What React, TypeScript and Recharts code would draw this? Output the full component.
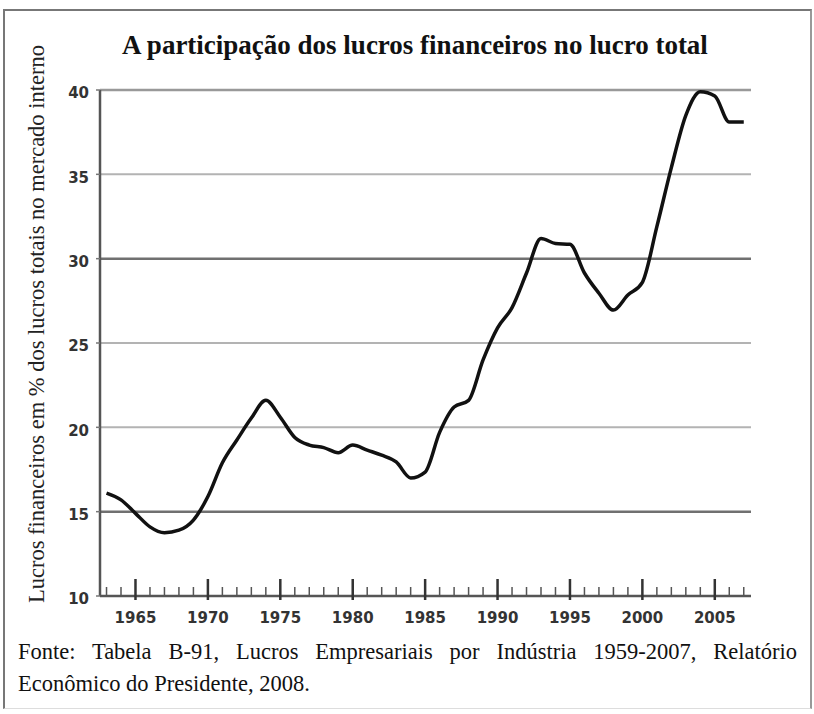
import React from 'react';
import { LineChart, Line, XAxis, YAxis, ReferenceLine } from 'recharts';

// Participação dos lucros financeiros no lucro total (%), 1963-2007
const years = [
  1963, 1964, 1965, 1966, 1967, 1968, 1969, 1970, 1971, 1972,
  1973, 1974, 1975, 1976, 1977, 1978, 1979, 1980, 1981, 1982,
  1983, 1984, 1985, 1986, 1987, 1988, 1989, 1990, 1991, 1992,
  1993, 1994, 1995, 1996, 1997, 1998, 1999, 2000, 2001, 2002,
  2003, 2004, 2005, 2006, 2007,
];
const shares = [
  16.1, 15.7, 14.9, 14.1, 13.75, 13.9, 14.5, 15.9, 17.9, 19.25,
  20.55, 21.6, 20.6, 19.4, 18.95, 18.8, 18.5, 18.95, 18.65, 18.35,
  17.95, 17.0, 17.35, 19.7, 21.2, 21.6, 24.0, 25.9, 27.1, 29.15,
  31.2, 30.9, 30.85, 29.15, 27.95, 26.95, 27.85, 28.6, 31.9, 35.4,
  38.5, 39.9, 39.65, 38.1, 38.1,
];
const yTicks = [10, 15, 20, 25, 30, 35, 40];
const gridLevels = [15, 20, 25, 30, 35, 40];

const title = 'A participação dos lucros financeiros no lucro total';
const yLabel = 'Lucros financeiros em % dos lucros totais no mercado interno';
const source1 = 'Fonte: Tabela B-91, Lucros Empresariais por Indústria 1959-2007, Relatório';
const source2 = 'Econômico do Presidente, 2008.';

const data = years.map((year, i) => ({ year, share: shares[i] }));

const serif = '"Liberation Serif", "DejaVu Serif", serif';
const tickFont = '"DejaVu Sans", sans-serif';

const gridStroke = (v: number) => {
  if (v === 15 || v === 30) return { stroke: '#707070', width: 2.5 };
  if (v === 40) return { stroke: '#999999', width: 2.5 };
  return { stroke: '#b3b3b3', width: 2 };
};

const YearTick = (props: any) => {
  const { x, y, payload } = props;
  const yr = payload.value as number;
  const major = yr % 5 === 0;
  return (
    <g>
      <line
        x1={x}
        x2={x}
        y1={major ? y + 4 : y}
        y2={major ? y - 17 : y - 9}
        stroke={major ? '#333' : '#555'}
        strokeWidth={major ? 2.5 : 1.5}
      />
      {major && (
        <text
          x={x}
          y={y + 27}
          textAnchor="middle"
          fontFamily={tickFont}
          fontWeight="bold"
          fontSize={15}
          fill="#333"
        >
          {yr}
        </text>
      )}
    </g>
  );
};

const App = () => {
  return (
    <div style={{ position: 'relative', width: 814, height: 714, background: '#fff', overflow: 'hidden' }}>
      <style>{'body{margin:0;}'}</style>
      {/* frame */}
      <div style={{
        position: 'absolute', left: 3, top: 9, width: 805, height: 697,
        borderTop: '2px solid #777', borderLeft: '2px solid #777', borderRight: '2px solid #999',
        borderBottom: '1px solid #ddd',
      }} />
      <div style={{
        position: 'absolute', left: 65, top: 29, width: 700, textAlign: 'center',
        fontFamily: serif, fontWeight: 'bold', fontSize: 27, lineHeight: '32px', color: '#111',
      }}>
        {title}
      </div>
      <div style={{
        position: 'absolute', left: 37 - 320, top: 324 - 14, width: 640, height: 28,
        lineHeight: '28px', textAlign: 'center', transform: 'rotate(-90deg)',
        fontFamily: serif, fontSize: 22.5, color: '#222', whiteSpace: 'nowrap',
      }}>
        {yLabel}
      </div>
      <div style={{ position: 'absolute', left: 0, top: 0 }}>
        <LineChart
          width={814}
          height={640}
          data={data}
          margin={{ top: 90, right: 63, left: 0, bottom: 14 }}
        >
          {gridLevels.map((v) => {
            const g = gridStroke(v);
            return <ReferenceLine key={v} y={v} stroke={g.stroke} strokeWidth={g.width} />;
          })}
          <XAxis
            dataKey="year"
            type="number"
            domain={[1962.55, 2007.5]}
            ticks={years}
            interval={0}
            tickLine={false}
            tickSize={0}
            tickMargin={0}
            height={30}
            axisLine={{ stroke: '#555', strokeWidth: 2.5 }}
            tick={<YearTick />}
          />
          <YAxis
            domain={[10, 40]}
            ticks={yTicks}
            interval={0}
            width={100}
            tickSize={4}
            tickMargin={7}
            tickLine={{ stroke: '#777', strokeWidth: 1.5 }}
            axisLine={{ stroke: '#555', strokeWidth: 2.5 }}
            tick={{ fontFamily: tickFont, fontWeight: 'bold', fontSize: 15, fill: '#333', dy: 3 }}
          />
          <Line
            type="monotone"
            dataKey="share"
            stroke="#111"
            strokeWidth={3.5}
            strokeLinejoin="round"
            dot={false}
            activeDot={false}
            isAnimationActive={false}
          />
        </LineChart>
      </div>
      <div style={{
        position: 'absolute', left: 18, top: 636, width: 779,
        fontFamily: serif, fontSize: 22.5, lineHeight: '32px', color: '#111',
      }}>
        <div style={{ textAlign: 'justify', textAlignLast: 'justify', whiteSpace: 'nowrap' as any }}>{source1}</div>
        <div>{source2}</div>
      </div>
    </div>
  );
};

export default App;
